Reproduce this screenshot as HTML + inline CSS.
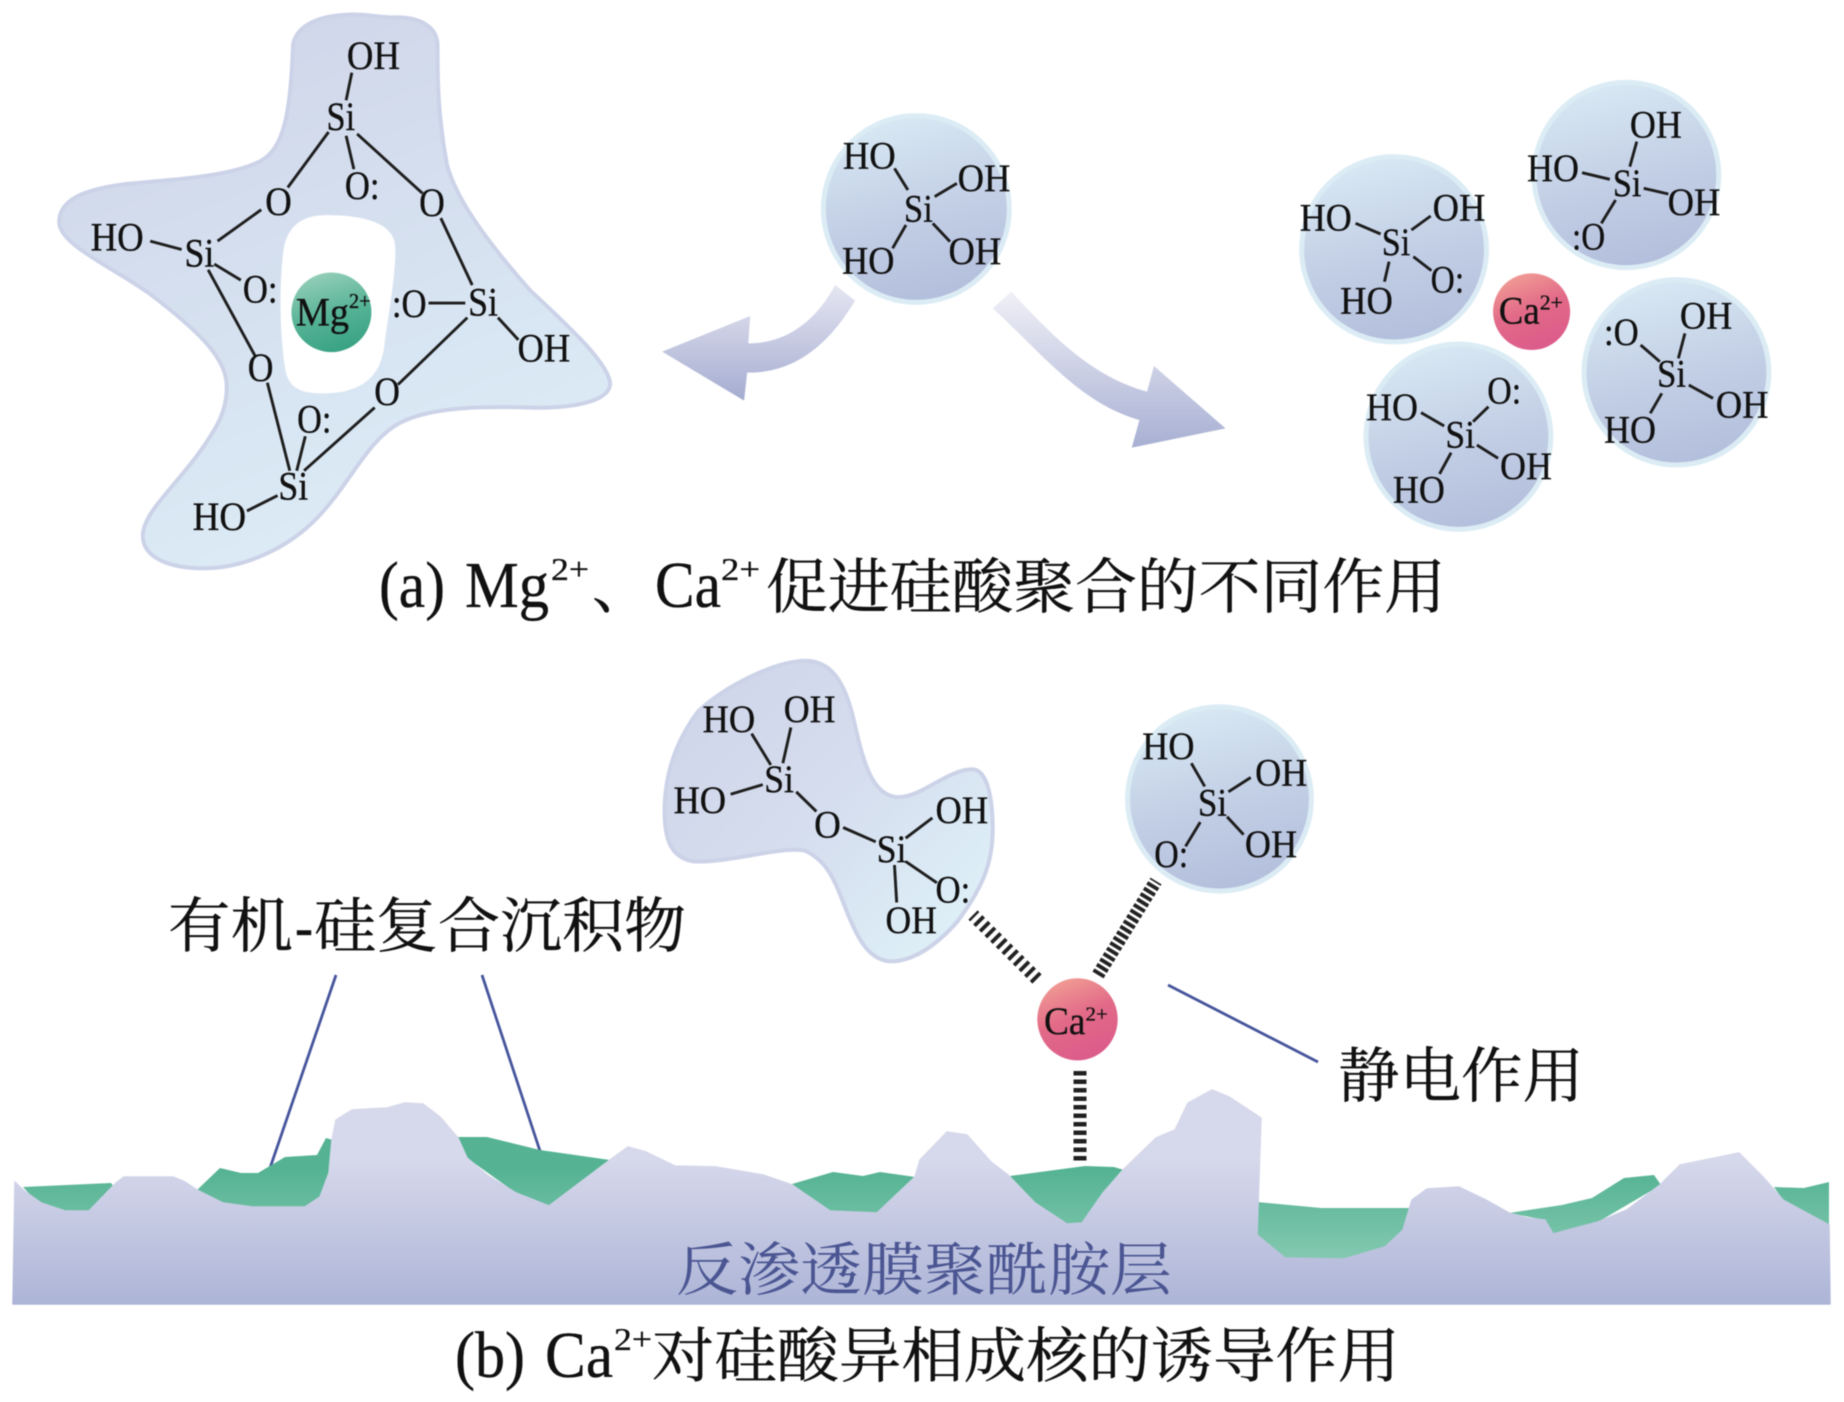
<!DOCTYPE html>
<html><head><meta charset="utf-8">
<style>
html,body{margin:0;padding:0;background:#fff;width:1844px;height:1402px;overflow:hidden}
svg{display:block;filter:blur(0.55px)}
text{font-family:"Liberation Serif","Noto Serif CJK SC",serif;fill:#111;stroke:#111;stroke-width:.35;vector-effect:non-scaling-stroke}
.c text,text.c{font-family:"Noto Serif CJK SC","Liberation Serif",serif}
.b line{stroke:#1e1e1e;stroke-width:2.9;vector-effect:non-scaling-stroke}
.bub{fill:url(#bub);stroke:#dcecf5;stroke-width:5;vector-effect:non-scaling-stroke}
.blob{stroke:#ccd3e8;stroke-width:4;vector-effect:non-scaling-stroke}
</style></head><body>
<svg width="1844" height="1402" viewBox="0 0 1844 1402" xmlns="http://www.w3.org/2000/svg">
<defs>
<linearGradient id="bub" x1=".35" y1="0" x2=".6" y2="1"><stop offset="0" stop-color="#d8e9f4"/><stop offset=".5" stop-color="#c4d0e6"/><stop offset="1" stop-color="#b3bedc"/></linearGradient>
<linearGradient id="blob1" x1=".2" y1="0" x2=".6" y2="1"><stop offset="0" stop-color="#cfd5e9"/><stop offset=".5" stop-color="#d6e1f0"/><stop offset="1" stop-color="#ddedf7"/></linearGradient>
<linearGradient id="blob2" x1=".1" y1=".1" x2=".9" y2=".8"><stop offset="0" stop-color="#d0d6ea"/><stop offset=".5" stop-color="#d5ddee"/><stop offset="1" stop-color="#ddeef7"/></linearGradient>
<linearGradient id="mg" x1=".3" y1="0" x2=".6" y2="1"><stop offset="0" stop-color="#96cfba"/><stop offset=".55" stop-color="#55b295"/><stop offset="1" stop-color="#38a283"/></linearGradient>
<linearGradient id="ca" x1=".2" y1="0" x2=".6" y2="1"><stop offset="0" stop-color="#f2a095"/><stop offset=".5" stop-color="#e26a88"/><stop offset="1" stop-color="#dc5b8b"/></linearGradient>
<linearGradient id="arL" x1="0" y1="0" x2="0" y2="1"><stop offset="0" stop-color="#e6e6f2"/><stop offset="1" stop-color="#a4acd0"/></linearGradient>
<linearGradient id="arR" x1="0" y1="0" x2="0" y2="1"><stop offset="0" stop-color="#f0f0f7"/><stop offset="1" stop-color="#a8b0d3"/></linearGradient>
<linearGradient id="ter" gradientUnits="userSpaceOnUse" x1="0" y1="1160" x2="0" y2="1304"><stop offset="0" stop-color="#d6d8eb"/><stop offset="1" stop-color="#adb5d7"/></linearGradient>
<linearGradient id="grn" gradientUnits="userSpaceOnUse" x1="0" y1="1170" x2="0" y2="1260"><stop offset="0" stop-color="#55b393"/><stop offset="1" stop-color="#84c9b1"/></linearGradient>
</defs>

<!-- crop 1: polymer + Mg -->
<g transform="scale(0.40816,0.38270)">
<path class="blob" fill="url(#blob1)" d="M718,115 C730,60 790,40 860,38 C900,36 940,48 970,45 C1030,45 1072,70 1072,120 C1072,200 1072,300 1095,430 C1115,510 1175,610 1300,760 C1380,840 1495,950 1495,1005 C1490,1050 1400,1068 1300,1065 C1200,1062 1060,1060 980,1105 C900,1150 860,1260 780,1350 C710,1430 600,1485 500,1485 C420,1485 350,1460 350,1400 C350,1340 430,1270 490,1180 C530,1120 560,1070 555,1000 C550,930 480,860 370,770 C280,700 145,640 145,580 C145,520 210,495 300,482 C400,470 560,465 640,420 C695,385 712,300 718,115 Z"/>
<path fill="#fff" d="M695,650 C705,590 740,562 800,562 C860,562 960,570 968,640 C972,710 950,830 942,900 C935,970 900,1028 790,1028 C730,1028 705,1010 698,960 C690,900 680,780 695,650 Z"/>
<g class="b">
<line x1="862" y1="190" x2="848" y2="262"/><line x1="805" y1="345" x2="705" y2="490"/><line x1="848" y1="355" x2="867" y2="442"/><line x1="875" y1="350" x2="1035" y2="505"/>
<line x1="640" y1="548" x2="533" y2="630"/><line x1="368" y1="630" x2="445" y2="652"/><line x1="525" y1="690" x2="590" y2="732"/><line x1="510" y1="705" x2="625" y2="930"/>
<line x1="1080" y1="570" x2="1157" y2="745"/><line x1="1050" y1="792" x2="1140" y2="792"/><line x1="1145" y1="830" x2="975" y2="1005"/><line x1="1220" y1="830" x2="1270" y2="888"/>
<line x1="655" y1="1000" x2="710" y2="1230"/><line x1="748" y1="1140" x2="727" y2="1230"/><line x1="918" y1="1065" x2="745" y2="1230"/><line x1="605" y1="1335" x2="680" y2="1295"/>
</g>
<ellipse cx="812" cy="816" rx="98" ry="104" fill="url(#mg)"/>
<g font-size="104">
<text x="850" y="180" textLength="130" lengthAdjust="spacingAndGlyphs">OH</text>
<text x="800" y="340" textLength="70" lengthAdjust="spacingAndGlyphs">Si</text>
<text x="845" y="520" textLength="85" lengthAdjust="spacingAndGlyphs">O:</text>
<text x="650" y="562" textLength="65" lengthAdjust="spacingAndGlyphs">O</text>
<text x="1027" y="565" textLength="63" lengthAdjust="spacingAndGlyphs">O</text>
<text x="222" y="655" textLength="130" lengthAdjust="spacingAndGlyphs">HO</text>
<text x="452" y="697" textLength="73" lengthAdjust="spacingAndGlyphs">Si</text>
<text x="595" y="790" textLength="85" lengthAdjust="spacingAndGlyphs">O:</text>
<text x="725" y="850" textLength="130" lengthAdjust="spacingAndGlyphs">Mg</text>
<text x="855" y="805" textLength="53" font-size="55" lengthAdjust="spacingAndGlyphs">2+</text>
<text x="960" y="828" textLength="85" lengthAdjust="spacingAndGlyphs">:O</text>
<text x="1147" y="825" textLength="73" lengthAdjust="spacingAndGlyphs">Si</text>
<text x="1268" y="945" textLength="129" lengthAdjust="spacingAndGlyphs">OH</text>
<text x="607" y="995" textLength="63" lengthAdjust="spacingAndGlyphs">O</text>
<text x="917" y="1058" textLength="63" lengthAdjust="spacingAndGlyphs">O</text>
<text x="728" y="1130" textLength="84" lengthAdjust="spacingAndGlyphs">O:</text>
<text x="682" y="1305" textLength="73" lengthAdjust="spacingAndGlyphs">Si</text>
<text x="472" y="1385" textLength="131" lengthAdjust="spacingAndGlyphs">HO</text>
</g>
</g>

<!-- crop 2: center + arrows -->
<g transform="translate(640,60) scale(0.3827,0.33333)">
<ellipse class="bub" cx="722" cy="447" rx="243" ry="280"/>
<path fill="url(#arL)" d="M510,675 C470,760 400,850 283,850 L288,768 L58,875 L272,1022 L280,938 C400,940 490,860 562,722 Z"/>
<path fill="url(#arR)" d="M970,695 C1080,830 1180,950 1325,995 L1343,918 L1530,1105 L1285,1163 L1305,1080 C1150,1030 1050,880 922,745 Z"/>
<g class="b">
<line x1="665" y1="325" x2="700" y2="390"/><line x1="828" y1="370" x2="770" y2="410"/><line x1="695" y1="495" x2="660" y2="565"/><line x1="765" y1="490" x2="810" y2="545"/>
</g>
<g font-size="118">
<text x="530" y="325" textLength="138" lengthAdjust="spacingAndGlyphs">HO</text>
<text x="830" y="393" textLength="138" lengthAdjust="spacingAndGlyphs">OH</text>
<text x="690" y="485" textLength="75" lengthAdjust="spacingAndGlyphs">Si</text>
<text x="528" y="640" textLength="137" lengthAdjust="spacingAndGlyphs">HO</text>
<text x="806" y="612" textLength="138" lengthAdjust="spacingAndGlyphs">OH</text>
</g>
</g>

<!-- crop 3: right group -->
<g transform="translate(1240,60) scale(0.38521,0.33333)">
<ellipse class="bub" cx="400" cy="568" rx="240" ry="278"/>
<ellipse class="bub" cx="1003" cy="345" rx="240" ry="278"/>
<ellipse class="bub" cx="1133" cy="937" rx="240" ry="278"/>
<ellipse class="bub" cx="567" cy="1130" rx="240" ry="278"/>
<ellipse cx="757" cy="755" rx="100" ry="115" fill="url(#ca)"/>
<g class="b">
<line x1="300" y1="490" x2="365" y2="522"/><line x1="445" y1="510" x2="495" y2="468"/><line x1="387" y1="605" x2="375" y2="665"/><line x1="450" y1="590" x2="497" y2="632"/>
<line x1="1030" y1="245" x2="1012" y2="320"/><line x1="888" y1="338" x2="960" y2="358"/><line x1="1048" y1="385" x2="1112" y2="402"/><line x1="975" y1="420" x2="938" y2="490"/>
<line x1="1155" y1="820" x2="1138" y2="895"/><line x1="1040" y1="855" x2="1090" y2="905"/><line x1="1165" y1="975" x2="1228" y2="1015"/><line x1="1095" y1="1000" x2="1065" y2="1060"/>
<line x1="470" y1="1058" x2="530" y2="1098"/><line x1="645" y1="1040" x2="605" y2="1085"/><line x1="615" y1="1155" x2="670" y2="1195"/><line x1="548" y1="1178" x2="518" y2="1242"/>
</g>
<g font-size="118">
<text x="155" y="512" textLength="135" lengthAdjust="spacingAndGlyphs">HO</text>
<text x="500" y="482" textLength="137" lengthAdjust="spacingAndGlyphs">OH</text>
<text x="368" y="585" textLength="74" lengthAdjust="spacingAndGlyphs">Si</text>
<text x="260" y="760" textLength="137" lengthAdjust="spacingAndGlyphs">HO</text>
<text x="495" y="698" textLength="87" lengthAdjust="spacingAndGlyphs">O:</text>
<text x="1012" y="233" textLength="135" lengthAdjust="spacingAndGlyphs">OH</text>
<text x="745" y="363" textLength="135" lengthAdjust="spacingAndGlyphs">HO</text>
<text x="968" y="408" textLength="74" lengthAdjust="spacingAndGlyphs">Si</text>
<text x="1110" y="465" textLength="137" lengthAdjust="spacingAndGlyphs">OH</text>
<text x="862" y="568" textLength="86" lengthAdjust="spacingAndGlyphs">:O</text>
<text x="672" y="790" textLength="106" lengthAdjust="spacingAndGlyphs">Ca</text>
<text x="778" y="748" textLength="60" font-size="62" lengthAdjust="spacingAndGlyphs">2+</text>
<text x="1142" y="805" textLength="136" lengthAdjust="spacingAndGlyphs">OH</text>
<text x="945" y="855" textLength="90" lengthAdjust="spacingAndGlyphs">:O</text>
<text x="1083" y="980" textLength="75" lengthAdjust="spacingAndGlyphs">Si</text>
<text x="1235" y="1072" textLength="137" lengthAdjust="spacingAndGlyphs">OH</text>
<text x="945" y="1147" textLength="135" lengthAdjust="spacingAndGlyphs">HO</text>
<text x="327" y="1080" textLength="135" lengthAdjust="spacingAndGlyphs">HO</text>
<text x="642" y="1030" textLength="88" lengthAdjust="spacingAndGlyphs">O:</text>
<text x="533" y="1162" textLength="77" lengthAdjust="spacingAndGlyphs">Si</text>
<text x="675" y="1257" textLength="135" lengthAdjust="spacingAndGlyphs">OH</text>
<text x="397" y="1327" textLength="135" lengthAdjust="spacingAndGlyphs">HO</text>
</g>
</g>

<!-- crop 4: lower molecules -->
<g transform="translate(640,640) scale(0.44643,0.35714)">
<path class="blob" fill="url(#blob2)" d="M55,480 C55,400 70,300 130,200 C190,130 300,60 370,58 C430,58 460,120 480,230 C500,340 520,440 580,440 C630,440 690,362 745,362 C780,365 790,450 790,530 C790,620 770,690 710,790 C660,860 610,900 560,900 C510,895 485,830 460,750 C435,670 420,620 370,590 C320,575 200,625 120,620 C70,610 55,560 55,480 Z"/>
<ellipse class="bub" cx="1298" cy="445" rx="206" ry="258"/>
<ellipse cx="980" cy="1062" rx="90" ry="115" fill="url(#ca)"/>
<g class="b">
<line x1="250" y1="262" x2="293" y2="350"/><line x1="338" y1="245" x2="320" y2="345"/><line x1="203" y1="432" x2="275" y2="405"/><line x1="350" y1="425" x2="395" y2="480"/>
<line x1="455" y1="525" x2="528" y2="565"/><line x1="655" y1="498" x2="595" y2="555"/><line x1="595" y1="620" x2="665" y2="680"/><line x1="570" y1="630" x2="575" y2="735"/>
<line x1="1235" y1="345" x2="1265" y2="410"/><line x1="1368" y1="385" x2="1318" y2="425"/><line x1="1255" y1="510" x2="1222" y2="578"/><line x1="1315" y1="495" x2="1352" y2="545"/>
</g>
<g font-size="110">
<text x="140" y="258" textLength="118" lengthAdjust="spacingAndGlyphs">HO</text>
<text x="322" y="230" textLength="116" lengthAdjust="spacingAndGlyphs">OH</text>
<text x="278" y="425" textLength="67" lengthAdjust="spacingAndGlyphs">Si</text>
<text x="75" y="485" textLength="118" lengthAdjust="spacingAndGlyphs">HO</text>
<text x="390" y="553" textLength="60" lengthAdjust="spacingAndGlyphs">O</text>
<text x="662" y="513" textLength="118" lengthAdjust="spacingAndGlyphs">OH</text>
<text x="530" y="622" textLength="67" lengthAdjust="spacingAndGlyphs">Si</text>
<text x="662" y="735" textLength="78" lengthAdjust="spacingAndGlyphs">O:</text>
<text x="550" y="820" textLength="115" lengthAdjust="spacingAndGlyphs">OH</text>
<text x="1125" y="333" textLength="117" lengthAdjust="spacingAndGlyphs">HO</text>
<text x="1378" y="407" textLength="117" lengthAdjust="spacingAndGlyphs">OH</text>
<text x="1250" y="492" textLength="65" lengthAdjust="spacingAndGlyphs">Si</text>
<text x="1355" y="607" textLength="117" lengthAdjust="spacingAndGlyphs">OH</text>
<text x="1152" y="635" textLength="76" lengthAdjust="spacingAndGlyphs">O:</text>
<text x="905" y="1103" textLength="93" lengthAdjust="spacingAndGlyphs">Ca</text>
<text x="998" y="1065" textLength="50" font-size="56" lengthAdjust="spacingAndGlyphs">2+</text>
</g>
</g>

<!-- hash bonds (real px) -->
<g fill="none" stroke="#222">
<line x1="1037" y1="979" x2="973" y2="915" stroke-width="13" stroke-dasharray="3.8 4.2"/>
<line x1="1098" y1="975" x2="1156" y2="881" stroke-width="13" stroke-dasharray="3.8 2.6"/>
<line x1="1080" y1="1071" x2="1080" y2="1162" stroke-width="13" stroke-dasharray="4.5 4"/>
</g>
<line x1="1168" y1="985" x2="1318" y2="1062" stroke="#46559c" stroke-width="2.8"/>
<line x1="336" y1="975" x2="270" y2="1168" stroke="#46559c" stroke-width="2.8"/>
<line x1="482" y1="975" x2="540" y2="1151" stroke="#46559c" stroke-width="2.8"/>

<!-- terrain -->
<g fill="url(#grn)" stroke-linejoin="round">
<polygon points="23,1187 111,1183 116,1190 89,1212 65,1212 35,1200"/>
<polygon points="220,1168 241,1173 258,1173 285,1157 317,1155 326,1138 333,1140 332,1193 305,1208 252,1208 223,1204 197,1190"/>
<polygon points="458,1137 487,1137 540,1150 610,1160 549,1207 516,1193 467,1158"/>
<polygon points="792,1184 833,1172 863,1176 880,1172 915,1177 920,1180 877,1214 830,1212"/>
<polygon points="1010,1176 1085,1166 1114,1167 1124,1170 1082,1224 1067,1225 1035,1203"/>
<polygon points="1257,1202 1321,1208 1414,1208 1403,1231 1385,1248 1344,1260 1285,1259 1257,1235"/>
<polygon points="1509,1213 1562,1205 1592,1198 1624,1178 1654,1175 1661,1185 1598,1222 1553,1235 1545,1220"/>
<polygon points="1774,1187 1804,1188 1829,1182 1829,1226 1783,1200"/>
</g>
<path fill="url(#ter)" stroke="url(#ter)" stroke-width="1.5" stroke-linejoin="round" d="M13,1304 L15,1182 L23,1190 L41,1203 L65,1211 L89,1211 L116,1183 L124,1177 L173,1177 L185,1182 L197,1190 L223,1203 L252,1207 L305,1207 L320,1197 L329,1173 L332,1140 L336,1120 L352,1110 L387,1108 L405,1103 L423,1104 L440,1117 L458,1138 L467,1158 L487,1175 L516,1193 L549,1206 L610,1160 L628,1147 L646,1152 L675,1166 L716,1167 L763,1175 L792,1185 L830,1211 L877,1213 L915,1177 L920,1160 L947,1132 L967,1135 L991,1162 L1008,1175 L1035,1203 L1067,1224 L1082,1223 L1103,1193 L1123,1170 L1156,1138 L1175,1130 L1188,1103 L1212,1090 L1229,1097 L1261,1118 L1257,1235 L1285,1258 L1344,1259 L1385,1247 L1403,1230 L1412,1200 L1427,1189 L1459,1187 L1486,1200 L1509,1213 L1527,1218 L1545,1220 L1553,1234 L1598,1222 L1627,1210 L1660,1185 L1680,1165 L1739,1153 L1763,1177 L1783,1200 L1829,1225 L1830,1304 Z"/>

<!-- labels -->
<text class="c" x="676" y="1290" font-size="58" textLength="496" lengthAdjust="spacingAndGlyphs" style="fill:#4a5592;stroke:none">反渗透膜聚酰胺层</text>
<text class="c" x="168" y="947" font-size="60" textLength="125" lengthAdjust="spacingAndGlyphs">有机</text>
<text x="295" y="947" font-size="60" textLength="18" lengthAdjust="spacingAndGlyphs">-</text>
<text class="c" x="314" y="947" font-size="60" textLength="372" lengthAdjust="spacingAndGlyphs">硅复合沉积物</text>
<text class="c" x="1338" y="1097" font-size="60" textLength="246" lengthAdjust="spacingAndGlyphs">静电作用</text>

<text x="379" y="607" font-size="66" textLength="66" lengthAdjust="spacingAndGlyphs">(a)</text>
<text x="465" y="607" font-size="66" textLength="84" lengthAdjust="spacingAndGlyphs">Mg</text>
<text x="551" y="580" font-size="32" textLength="38" lengthAdjust="spacingAndGlyphs">2+</text>
<text class="c" x="592" y="608" font-size="58" textLength="58" lengthAdjust="spacingAndGlyphs">、</text>
<text x="655" y="607" font-size="66" textLength="66" lengthAdjust="spacingAndGlyphs">Ca</text>
<text x="721" y="580" font-size="32" textLength="39" lengthAdjust="spacingAndGlyphs">2+</text>
<text class="c" x="766" y="608" font-size="60" textLength="680" lengthAdjust="spacingAndGlyphs">促进硅酸聚合的不同作用</text>

<text x="455" y="1377" font-size="66" textLength="70" lengthAdjust="spacingAndGlyphs">(b)</text>
<text x="545" y="1377" font-size="66" textLength="68" lengthAdjust="spacingAndGlyphs">Ca</text>
<text x="614" y="1350" font-size="32" textLength="38" lengthAdjust="spacingAndGlyphs">2+</text>
<text class="c" x="652" y="1377" font-size="60" textLength="748" lengthAdjust="spacingAndGlyphs">对硅酸异相成核的诱导作用</text>
</svg>
</body></html>
